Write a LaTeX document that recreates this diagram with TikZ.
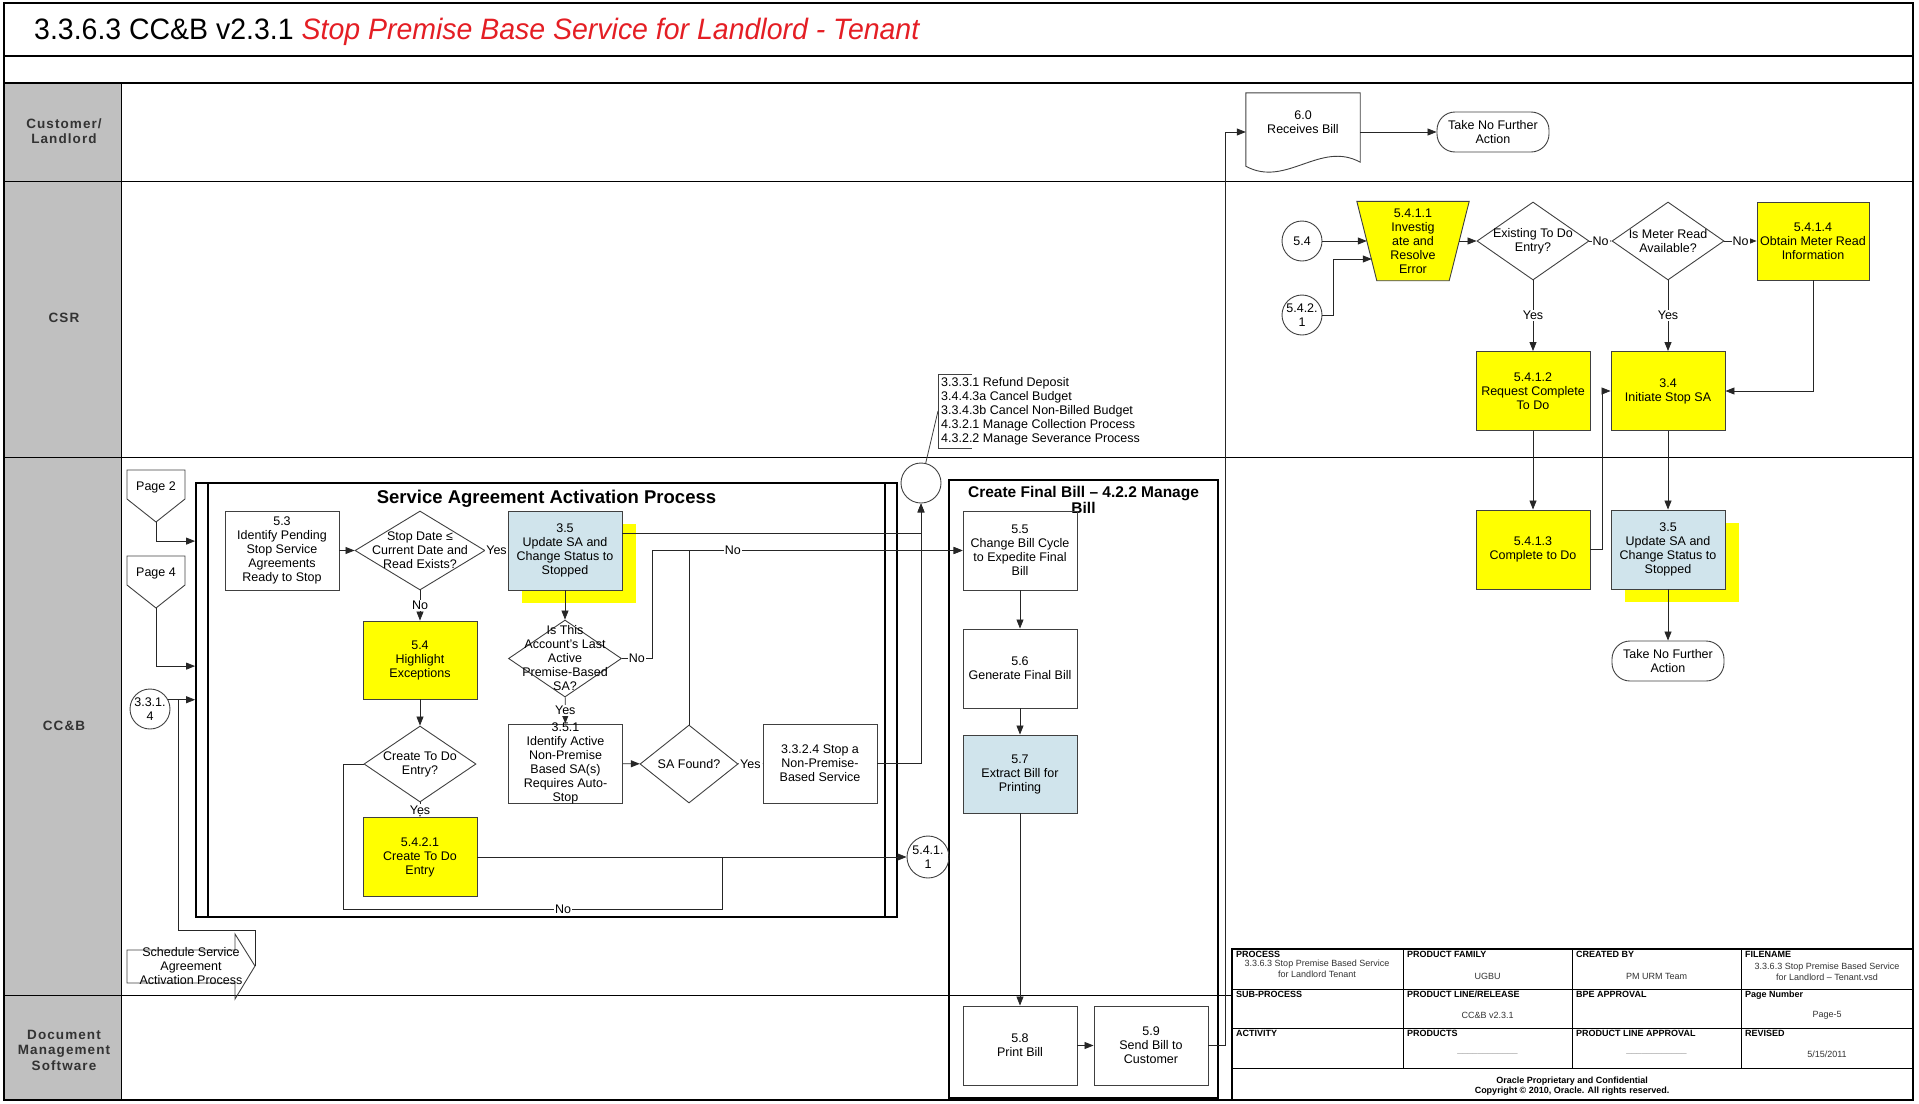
\documentclass[tikz,border=0pt]{standalone}
\usepackage{fontspec}
\setmainfont{Liberation Sans}
\newfontfamily\titlefont[FakeStretch=0.965]{Liberation Sans}
\newfontfamily\lanefont[LetterSpace=8]{Liberation Sans}
\usetikzlibrary{arrows.meta,shapes.geometric,shadows,calc}
\definecolor{boxyellow}{RGB}{255,255,0}
\definecolor{boxblue}{RGB}{208,228,236}
\definecolor{lanegray}{RGB}{192,192,192}
\definecolor{titlered}{RGB}{228,30,36}
\newcommand{\nodefont}{\fontsize{12.5}{14}\selectfont}
\newcommand{\tabfont}{\fontsize{9}{10.5}\selectfont}
\tikzset{
  lbl/.style      = {align=center, font=\nodefont, inner sep=0pt},
  proc/.style     = {rectangle, draw=black!75, line width=0.9pt, minimum width=114pt, minimum height=79pt, inner sep=0pt, align=center, font=\nodefont},
  yproc/.style    = {proc, fill=boxyellow},
  bproc/.style    = {proc, fill=boxblue},
  bshadow/.style  = {bproc, drop shadow={shadow xshift=14pt, shadow yshift=-13pt, fill=boxyellow, opacity=1}},
  dec/.style      = {diamond, draw=black!75, line width=0.9pt, minimum width=112pt, minimum height=78pt, inner sep=0pt, label={[lbl]center:#1}},
  conn/.style     = {circle, draw=black!75, line width=0.9pt, minimum size=40pt, inner sep=0pt, label={[lbl]center:#1}},
  term/.style     = {rectangle, draw=black!75, line width=0.9pt, rounded corners=18pt, minimum width=112pt, minimum height=40pt, inner sep=0pt, align=center, font=\nodefont},
  manbox/.style   = {minimum width=112pt, minimum height=79pt, inner sep=0pt, align=center, font=\nodefont},
  docbox/.style   = {minimum width=114pt, minimum height=78pt, inner sep=0pt, label={[lbl,yshift=10pt]center:#1}},
  container/.style= {draw=black, line width=1.8pt, inner sep=0pt},
  yn/.style       = {font=\nodefont, fill=white, inner sep=1pt},
  arr/.style      = {-{Triangle[length=9pt,width=7pt]}, line width=0.8pt, draw=black!85},
  conline/.style  = {line width=0.8pt, draw=black!85},
  lanelbl/.style  = {align=center, font=\lanefont\fontsize{13.5}{15.5}\selectfont\bfseries, text=black!80},
  tabhd/.style    = {anchor=north west, font=\tabfont\bfseries, inner sep=1pt},
  tabval/.style   = {align=center, font=\tabfont, text=black!80, inner sep=0pt}
}
\newcommand{\offpage}[4]{%
  \draw[black!75,line width=0.9pt] (#2-29,#3) -- (#2+29,#3) -- (#2+29,#3+29) -- (#2,#3+52) -- (#2-29,#3+29) -- cycle;
  \node[lbl] (#1) at (#2,#3+17) {#4};
  \coordinate (#1-tip) at (#2,#3+52);
}

\begin{document}
\begin{tikzpicture}[x=1pt,y=-1pt]
  \useasboundingbox (0,0) rectangle (1919,1103);
  % frame, title bar and lanes
  \fill[lanegray] (4,83) rectangle (121,1100);
  \draw[line width=1.2pt] (4,56) -- (1913,56) (4,83) -- (1913,83);
  \draw[line width=1pt] (4,181) -- (1913,181) (4,457) -- (1913,457) (4,995) -- (1232,995);
  \draw[line width=1pt] (121,83) -- (121,1100);
  \draw[line width=2pt] (4,3) rectangle (1913,1100);
  \node[anchor=west, inner sep=0pt, font=\titlefont\fontsize{29.5}{32}\selectfont] (title) at (34,32)
    {3.3.6.3 CC\&B v2.3.1 \textcolor{titlered}{\itshape Stop Premise Base Service for Landlord - Tenant}};
  \node[lanelbl] (lane-cust) at (64,131) {Customer/\\Landlord};
  \node[lanelbl] (lane-csr) at (64,318) {CSR};
  \node[lanelbl] (lane-ccb) at (64,726) {CC\&B};
  \node[lanelbl] (lane-dms) at (64,1050) {Document\\Management\\Software};

  % containers
  \node[container, minimum width=701pt, minimum height=434pt] (sap) at (546.5,700) {};
  \draw[line width=1.8pt] ([xshift=13pt]sap.north west) -- ([xshift=13pt]sap.south west)
    ([xshift=-13pt]sap.north east) -- ([xshift=-13pt]sap.south east);
  \node[font=\fontsize{18.5}{20}\selectfont\bfseries, inner sep=0pt] (sap-title) at ($(sap.north)+(0,17)$) {Service Agreement Activation Process};
  \node[container, minimum width=269pt, minimum height=618pt] (cfb) at (1083.5,789) {};
  \node[align=center, font=\fontsize{15.5}{16.5}\selectfont\bfseries, inner sep=0pt] (cfb-title) at ($(cfb.north)+(0,21)$) {Create Final Bill – 4.2.2 Manage\\Bill};

  % customer / landlord
  \node[docbox={6.0\\Receives Bill}] (doc60) at (1303,132) {};
  \draw[black!75,line width=0.9pt] (doc60.north west) -- (doc60.north east) -- ([yshift=9pt]doc60.south east)
    .. controls +(-40,-22) and +(40,22) .. ([yshift=5pt]doc60.south west) -- cycle;
  \node[term] (tnfa1) at (1493,132) {Take No Further\\Action};

  % CSR
  \node[conn={5.4}] (c54) at (1302,241) {};
  \node[conn={5.4.2.\\1}] (c5421) at (1302,315) {};
  \node[manbox] (inv) at (1413,241) {};
  \filldraw[fill=boxyellow, draw=black!75, line width=0.9pt] (inv.north west) -- (inv.north east)
    -- ([xshift=-20pt]inv.south east) -- ([xshift=20pt]inv.south west) -- cycle;
  \node[lbl] (inv-text) at (inv) {5.4.1.1\\Investig\\ate and\\Resolve\\Error};
  \node[dec={Existing To Do\\Entry?}] (dtodo) at (1533,241) {};
  \node[dec={Is Meter Read\\Available?}] (dmeter) at (1668,241) {};
  \node[yproc, minimum width=112pt, minimum height=78pt] (n5414) at (1813,241) {5.4.1.4\\Obtain Meter Read\\Information};
  \node[yproc] (n5412) at (1533,391) {5.4.1.2\\Request Complete\\To Do};
  \node[yproc] (n34) at (1668,391) {3.4\\Initiate Stop SA};
  \node[yproc] (n5413) at (1533,549.5) {5.4.1.3\\Complete to Do};
  \node[bshadow] (n35b) at (1668,549.5) {3.5\\Update SA and\\Change Status to\\Stopped};
  \node[term] (tnfa2) at (1668,661) {Take No Further\\Action};

  % CC&B
  \offpage{pg2}{156}{470}{Page 2}
  \offpage{pg4}{156}{556}{Page 4}
  \node[conn={3.3.1.\\4}] (c3314) at (150,709) {};
  \coordinate (sched-tip) at (255,966);
  \draw[black!75,line width=0.9pt] (sched-tip) -- ++(-20,-32) -- ++(0,16) -- ++(-108,0) -- ++(0,33) -- ++(108,0) -- ++(0,16) -- cycle;
  \node[lbl] (sched) at (191,966) {Schedule Service\\Agreement\\Activation Process};

  \node[proc] (n53) at (282,550.5) {5.3\\Identify Pending\\Stop Service\\Agreements\\Ready to Stop};
  \node[dec={Stop Date ≤\\Current Date and\\Read Exists?}, minimum width=130pt, minimum height=79pt] (dstop) at (420,550.5) {};
  \node[bshadow] (n35a) at (565,550.5) {3.5\\Update SA and\\Change Status to\\Stopped};
  \node[yproc, minimum height=78pt] (n54) at (420,660) {5.4\\Highlight\\Exceptions};
  \node[dec={Is This\\Account's Last\\Active\\Premise-Based\\SA?}, minimum width=113pt, minimum height=77pt] (dlast) at (565,658.5) {};
  \node[dec={Create To Do\\Entry?}, minimum height=76pt] (dcreate) at (420,764) {};
  \node[yproc] (n5421) at (420,857) {5.4.2.1\\Create To Do\\Entry};
  \node[proc, label={[lbl]center:{3.5.1\\Identify Active\\Non-Premise\\Based SA(s)\\Requires Auto-\\Stop}}] (n351) at (565.5,763.5) {};
  \node[dec={SA Found?}, minimum width=98pt] (dfound) at (689,764) {};
  \node[proc] (n3324) at (820,763.5) {3.3.2.4 Stop a\\Non-Premise-\\Based Service};
  \node[conn={}] (coff) at (921,483) {};
  \node[conn={5.4.1.\\1}, minimum size=42pt] (c5411) at (928,857) {};
  \node[anchor=west, align=left, font=\nodefont, inner sep=3pt] (ann) at (938,411)
    {3.3.3.1 Refund Deposit\\3.4.4.3a Cancel Budget\\3.3.4.3b Cancel Non-Billed Budget\\4.3.2.1 Manage Collection Process\\4.3.2.2 Manage Severance Process};
  \draw[black!75,line width=0.8pt] ([xshift=34pt]ann.north west) -- (ann.north west) -- (ann.south west) -- ([xshift=34pt]ann.south west);
  \draw[black!75,line width=0.8pt] (coff) -- (ann.west);

  \node[proc] (n55) at (1020,550.5) {5.5\\Change Bill Cycle\\to Expedite Final\\Bill};
  \node[proc] (n56) at (1020,668.5) {5.6\\Generate Final Bill};
  \node[bproc, minimum height=78pt] (n57) at (1020,774) {5.7\\Extract Bill for\\Printing};

  % document management software
  \node[proc] (n58) at (1020,1045.5) {5.8\\Print Bill};
  \node[proc] (n59) at (1151,1045.5) {5.9\\Send Bill to\\Customer};

  % connectors
  \draw[arr] (doc60) -- (tnfa1);
  \draw[arr] (n59.east) -- ++(17,0) |- (doc60.west);
  \draw[arr] (c54) -- ($(inv.west)+(10,0)$);
  \draw[arr] (c5421.east) -- ++(11,0) |- ($(inv.west)+(15,18)$);
  \draw[arr] ($(inv.east)+(-10,0)$) -- (dtodo);
  \draw[arr] (dtodo) -- node[yn] (no1) {No} (dmeter);
  \draw[arr] (dmeter) -- node[yn] (no2) {No} (n5414);
  \draw[arr] (dtodo) -- node[yn] (yes1) {Yes} (n5412);
  \draw[arr] (dmeter) -- node[yn] (yes2) {Yes} (n34);
  \draw[arr] (n5414) |- (n34);
  \draw[arr] (n5412) -- (n5413);
  \draw[arr] (n5413.east) -- ++(12,0) |- (n34.west);
  \draw[arr] (n34) -- (n35b);
  \draw[arr] (n35b) -- (tnfa2);

  \draw[arr] (pg2-tip) |- ($(sap.north west)+(0,59)$);
  \draw[arr] (pg4-tip) |- ($(sap.north west)+(0,184)$);
  \draw[arr] (c3314.27) -- (c3314.27 -| sap.west);
  \draw[conline] (sched-tip) -- ++(0,-36) -| ([xshift=10pt]c3314.27);

  \draw[arr] (n53) -- (dstop);
  \draw[arr] (dstop) -- node[yn] (yes3) {Yes} (n35a);
  \draw[arr] (dstop) -- node[yn] (no3) {No} (n54);
  \draw[arr] (n54) -- (dcreate);
  \draw[arr] (dcreate) -- node[yn] (yes4) {Yes} (n5421);
  \draw[arr] (n5421) -- (c5411);
  \draw[conline] (dcreate.west) -- ++(-20,0) |- node[yn, pos=0.79] (no4) {No}
    ($(n5421.east)!0.57!(c5411.west)+(0,52)$) -- ($(n5421.east)!0.57!(c5411.west)$);
  \draw[arr] (n35a) -- (dlast);
  \draw[arr] (dlast) -- node[yn] (yes5) {Yes} (n351);
  \draw[arr] (dlast.east) -- node[yn] (no5) {No} ++(30,0) |- (n55.west);
  \draw[arr] (dfound.north) |- node[yn, pos=0.58] (no6) {No} (n55.west);
  \draw[arr] (n351) -- (dfound);
  \draw[arr] (dfound) -- node[yn] (yes6) {Yes} (n3324);
  \draw[arr] (n3324.east) -| (coff.south);
  \draw[arr] (n35a.17) -| (coff.south);

  \draw[arr] (n55) -- (n56);
  \draw[arr] (n56) -- (n57);
  \draw[arr] (n57) -- (n58);
  \draw[arr] (n58) -- (n59);

  % title block
  \fill[white] (1232,949) rectangle (1913,1100);
  \draw[line width=1.2pt] (1232,949) rectangle (1913,1100);
  \draw[line width=1pt] (1232,989) -- (1913,989) (1232,1028) -- (1913,1028) (1232,1068) -- (1913,1068);
  \foreach \cx in {1403,1572,1741} \draw[line width=1pt] (\cx,949) -- (\cx,1068);
  \node[tabhd] (h-proc) at (1235,950) {PROCESS};
  \node[tabhd] (h-fam) at (1406,950) {PRODUCT FAMILY};
  \node[tabhd] (h-crt) at (1575,950) {CREATED BY};
  \node[tabhd] (h-file) at (1744,950) {FILENAME};
  \node[tabhd] (h-sub) at (1235,990) {SUB-PROCESS};
  \node[tabhd] (h-rel) at (1406,990) {PRODUCT LINE/RELEASE};
  \node[tabhd] (h-bpe) at (1575,990) {BPE APPROVAL};
  \node[tabhd] (h-page) at (1744,990) {Page Number};
  \node[tabhd] (h-act) at (1235,1029) {ACTIVITY};
  \node[tabhd] (h-prod) at (1406,1029) {PRODUCTS};
  \node[tabhd] (h-pla) at (1575,1029) {PRODUCT LINE APPROVAL};
  \node[tabhd] (h-rev) at (1744,1029) {REVISED};
  \node[tabval] (v-proc) at (1317,969) {3.3.6.3 Stop Premise Based Service\\for Landlord Tenant};
  \node[tabval] (v-fam) at (1487.5,976) {UGBU};
  \node[tabval] (v-crt) at (1656.5,976) {PM URM Team};
  \node[tabval] (v-file) at (1827,972) {3.3.6.3 Stop Premise Based Service\\for Landlord – Tenant.vsd};
  \node[tabval] (v-rel) at (1487.5,1015) {CC\&B v2.3.1};
  \node[tabval] (v-page) at (1827,1015) {Page-5};
  \node[tabval, text=black!40] (v-prod) at (1487.5,1053) {\_\_\_\_\_\_\_\_\_\_\_\_};
  \node[tabval, text=black!40] (v-pla) at (1656.5,1053) {\_\_\_\_\_\_\_\_\_\_\_\_};
  \node[tabval] (v-rev) at (1827,1054) {5/15/2011};
  \node[tabval, font=\tabfont\bfseries, text=black] (v-copy) at (1572,1086) {Oracle Proprietary and Confidential\\Copyright © 2010, Oracle. All rights reserved.};
\end{tikzpicture}
\end{document}
